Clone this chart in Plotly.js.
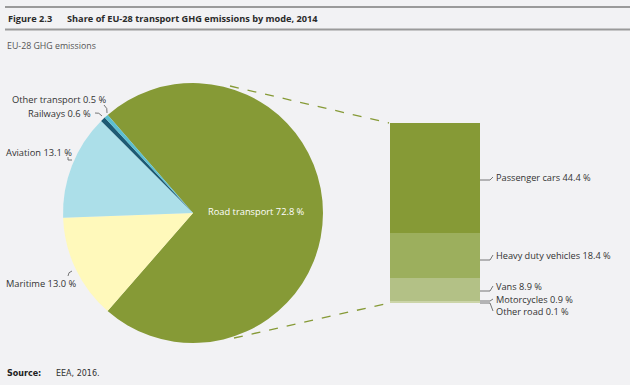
<!DOCTYPE html>
<html>
<head>
<meta charset="utf-8">
<script src="https://cdn.plot.ly/plotly-3.0.1.min.js"></script>
<style>html,body{margin:0;padding:0;background:#f2f2f4;}#chart{width:630px;height:385px;}</style>
</head>
<body>
<div id="chart"></div>
<script>
// Pie: transport modes (clockwise from Road transport)
var modeLabels = ["Road transport", "Maritime", "Aviation", "Railways", "Other transport"];
var modeValues = [72.8, 13.0, 13.1, 0.6, 0.5];
var modeColors = ["#869a36", "#fff9bb", "#acdfe9", "#1d5a73", "#5cbfd0"];

// Bar: road transport breakdown (bottom to top)
var roadLabels = ["Other road", "Motorcycles", "Vans", "Heavy duty vehicles", "Passenger cars"];
var roadValues = [0.1, 0.9, 8.9, 18.4, 44.4];
var roadColors = ["#e4e9d2", "#ccd5a8", "#b3c186", "#9caf5d", "#869a36"];

function pct(v){ return v.toFixed(1) + " %"; }

var font = "Open Sans, sans-serif";
var txtColor = "#333333";

var traces = [{
  type: "pie",
  labels: modeLabels,
  values: modeValues,
  marker: {colors: modeColors, line: {width: 0}},
  sort: false,
  direction: "clockwise",
  rotation: -41,
  textinfo: "none",
  hoverinfo: "label+value",
  domain: {x: [63/630, 323/630], y: [1 - 343/385, 1 - 83/385]},
  showlegend: false
}];

roadLabels.forEach(function(lab, i){
  traces.push({
    type: "bar",
    x: ["Road"],
    y: [roadValues[i]],
    name: lab,
    marker: {color: roadColors[i], line: {width: 0}},
    xaxis: "x", yaxis: "y",
    showlegend: false,
    hoverinfo: "name+y"
  });
});

var total = roadValues.reduce(function(a,b){return a+b;}, 0);

var annotations = [];
var shapes = [];

// Header text
annotations.push({xref:"paper", yref:"paper", x:6/630, y:1-18/385, xanchor:"left", yanchor:"middle", showarrow:false,
  text:"<b>Figure 2.3</b>", font:{family:font, size:9.2, color:"#2a2a2a"}});
annotations.push({xref:"paper", yref:"paper", x:65/630, y:1-18/385, xanchor:"left", yanchor:"middle", showarrow:false,
  text:"<b>Share of EU-28 transport GHG emissions by mode, 2014</b>", font:{family:font, size:9.2, color:"#2a2a2a"}});
annotations.push({xref:"paper", yref:"paper", x:5/630, y:1-46/385, xanchor:"left", yanchor:"middle", showarrow:false,
  text:"EU-28 GHG emissions", font:{family:font, size:8.8, color:"#555"}});
annotations.push({xref:"paper", yref:"paper", x:5/630, y:1-373/385, xanchor:"left", yanchor:"middle", showarrow:false,
  text:"<b>Source:</b>", font:{family:"DejaVu Sans", size:8, color:"#222"}});
annotations.push({xref:"paper", yref:"paper", x:54/630, y:1-373/385, xanchor:"left", yanchor:"middle", showarrow:false,
  text:"EEA, 2016.", font:{family:"DejaVu Sans", size:8, color:"#333"}});

// Header rules
shapes.push({type:"line", xref:"paper", yref:"paper", x0:5/630, x1:1, y0:1-7/385, y1:1-7/385, line:{color:"#9a9a9a", width:2}});
shapes.push({type:"line", xref:"paper", yref:"paper", x0:5/630, x1:1, y0:1-29.5/385, y1:1-29.5/385, line:{color:"#9a9a9a", width:2}});

// Pie labels
annotations.push({xref:"paper", yref:"paper", x:206/630, y:1-212/385, xanchor:"left", yanchor:"middle", showarrow:false,
  text: modeLabels[0] + " " + pct(modeValues[0]), font:{family:font, size:9.3, color:"#ffffff"}});
var pieLab = [
  {i:4, x:108, y:100},
  {i:3, x:93, y:113},
  {i:2, x:74, y:152},
  {i:1, x:78, y:283}
];
pieLab.forEach(function(p){
  annotations.push({xref:"paper", yref:"paper", x:p.x/630, y:1-p.y/385, xanchor:"right", yanchor:"middle", showarrow:false,
    text: modeLabels[p.i] + " " + pct(modeValues[p.i]), font:{family:font, size:9.3, color:txtColor}});
});
// small leader curves for pie labels
shapes.push({type:"path", xref:"paper", yref:"paper", line:{color:"#555", width:0.8},
  path:"M " + (104/630) + "," + (1-105/385) + " Q " + (108/630) + "," + (1-108/385) + " " + (107/630) + "," + (1-113/385)});
shapes.push({type:"path", xref:"paper", yref:"paper", line:{color:"#555", width:0.8},
  path:"M " + (95/630) + "," + (1-113/385) + " Q " + (99/630) + "," + (1-112/385) + " " + (102/630) + "," + (1-116/385)});
shapes.push({type:"path", xref:"paper", yref:"paper", line:{color:"#555", width:0.8},
  path:"M " + (68/630) + "," + (1-157/385) + " L " + (68/630) + "," + (1-160/385) + " L " + (72/630) + "," + (1-160/385)});
shapes.push({type:"path", xref:"paper", yref:"paper", line:{color:"#555", width:0.8},
  path:"M " + (68/630) + "," + (1-276/385) + " Q " + (68/630) + "," + (1-272/385) + " " + (72/630) + "," + (1-271/385)});

// Bar labels with leader lines
var barRight = 480/630;
var labelYpx = [311, 299, 286, 255, 177];
var anchorYpx = [303, 301, 291, 260, 180];
roadLabels.forEach(function(lab, i){
  annotations.push({xref:"paper", yref:"paper", x:494/630, y:1-labelYpx[i]/385, xanchor:"left", yanchor:"middle", showarrow:false,
    text: lab + " " + pct(roadValues[i]), font:{family:font, size:9.2, color:txtColor}});
  var y0 = anchorYpx[i], ly = labelYpx[i];
  shapes.push({type:"path", xref:"paper", yref:"paper", line:{color:"#555", width:0.8},
    path:"M " + barRight + "," + (1-y0/385) + " L " + (490/630) + "," + (1-y0/385) + " L " + (493/630) + "," + (1-ly/385)});
});

// Dashed connectors from pie to bar
shapes.push({type:"line", xref:"paper", yref:"paper", x0:230/630, y0:1-86/385, x1:389/630, y1:1-123/385,
  line:{color:"#869a36", width:1.3, dash:"dash"}});
shapes.push({type:"line", xref:"paper", yref:"paper", x0:234/630, y0:1-338/385, x1:389/630, y1:1-303/385,
  line:{color:"#869a36", width:1.3, dash:"dash"}});

var layout = {
  width: 630, height: 385,
  margin: {l:0, r:0, t:0, b:0},
  paper_bgcolor: "#f2f2f4",
  plot_bgcolor: "rgba(0,0,0,0)",
  barmode: "stack",
  bargap: 0,
  xaxis: {domain:[390/630, 480/630], visible:false, fixedrange:true},
  yaxis: {domain:[1-303/385, 1-123/385], range:[0, total], visible:false, fixedrange:true},
  annotations: annotations,
  shapes: shapes,
  showlegend: false
};

Plotly.newPlot("chart", traces, layout, {displayModeBar:false, staticPlot:true});
</script>
</body>
</html>
